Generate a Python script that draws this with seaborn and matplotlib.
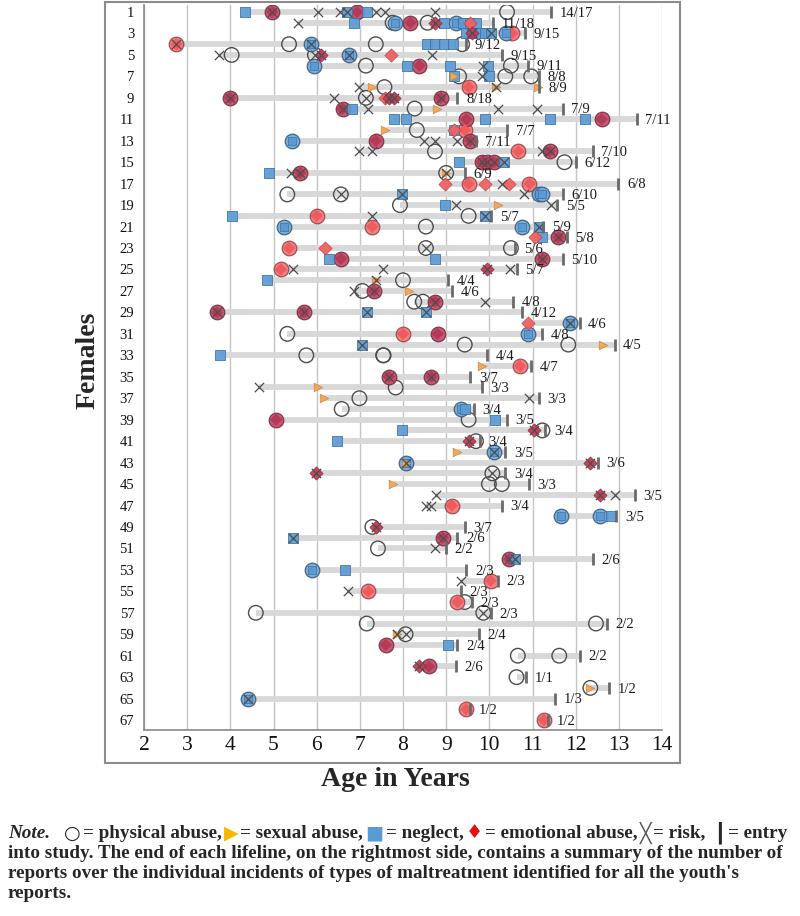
import numpy as np
import matplotlib
matplotlib.use("Agg")
import matplotlib.pyplot as plt
import seaborn as sns
from matplotlib.patches import Rectangle

# ---- data: (row, age in years) for each kind of marker ----
physical = [(1, 10.41), (2, 7.76), (2, 8.57), (4, 5.36), (4, 7.37), (4, 9.37), (5, 4.03), (5, 5.96),
            (6, 7.14), (6, 10.5), (7, 9.3), (7, 10.37), (7, 10.97), (8, 7.57), (9, 7.14), (10, 8.27),
            (12, 8.32), (14, 8.74), (15, 11.74), (16, 9.0), (18, 5.32), (18, 6.56), (19, 7.93),
            (20, 9.52), (21, 8.53), (23, 8.53), (23, 10.5), (26, 8.0), (27, 7.06), (28, 8.26),
            (28, 8.46), (31, 5.32), (32, 9.43), (32, 11.83), (33, 5.76), (33, 7.54), (33, 7.55),
            (36, 7.83), (37, 6.99), (38, 6.58), (39, 9.52), (40, 11.23), (41, 9.69), (44, 10.07),
            (45, 9.99), (45, 10.29), (49, 7.29), (51, 7.42), (56, 9.43), (57, 4.59), (57, 9.86),
            (58, 7.16), (58, 12.47), (59, 8.06), (61, 10.66), (61, 11.62), (63, 10.63), (64, 12.34)]

phys_emot = [(3, 10.53), (4, 2.75), (8, 9.52), (12, 9.43), (14, 10.67), (17, 9.52), (17, 10.93),
             (20, 6.0), (21, 7.29), (23, 5.36), (25, 5.17), (31, 8.0), (34, 10.71), (47, 9.13),
             (54, 10.03), (55, 7.2), (56, 9.26), (66, 9.46), (67, 11.26)]

phys_emot_dark = [(1, 4.97), (1, 6.94), (2, 8.17), (6, 8.38), (9, 3.99), (9, 8.87), (10, 6.6),
                  (11, 9.47), (11, 12.6), (13, 7.37), (13, 9.56), (14, 11.4), (15, 9.82), (15, 9.94),
                  (15, 10.11), (16, 5.62), (22, 11.6), (24, 6.56), (24, 11.23), (27, 7.33), (28, 8.74),
                  (29, 3.69), (29, 5.7), (31, 8.8), (35, 7.67), (35, 8.66), (39, 5.06), (50, 8.92),
                  (52, 10.46), (60, 7.6), (62, 8.6)]

phys_neglect = [(2, 7.82), (2, 9.22), (3, 10.38), (4, 5.87), (5, 6.75), (6, 5.94), (13, 5.43),
                (18, 11.14), (18, 11.23), (21, 5.25), (21, 10.76), (30, 11.87), (31, 10.89),
                (38, 9.34), (42, 10.11), (43, 8.06), (48, 11.66), (48, 12.57), (53, 5.89), (65, 4.42)]

neglect = [(1, 4.35), (1, 6.71), (1, 7.16), (2, 6.86), (2, 8.94), (2, 9.4), (2, 9.55), (2, 9.69),
           (3, 9.45), (3, 9.6), (3, 9.75), (3, 9.9), (3, 10.05), (4, 8.55), (4, 8.75), (4, 8.95),
           (4, 9.15), (6, 8.1), (6, 9.09), (6, 9.97), (7, 9.17), (7, 9.99), (10, 6.83), (11, 7.8),
           (11, 8.08), (11, 9.9), (11, 11.4), (11, 12.21), (12, 9.17), (15, 9.29), (15, 10.33),
           (16, 4.89), (18, 7.97), (19, 8.98), (20, 4.03), (20, 9.9), (21, 11.14), (22, 11.23),
           (24, 6.28), (24, 8.74), (26, 4.86), (29, 7.16), (29, 8.53), (32, 7.06), (33, 3.75),
           (38, 9.43), (39, 10.14), (40, 7.97), (41, 6.46), (48, 12.81), (50, 5.45), (52, 10.59),
           (53, 6.66), (60, 9.04)]

emotional = [(2, 9.55), (5, 7.72), (9, 7.59), (12, 9.17), (17, 8.98), (17, 9.9), (17, 10.46),
             (22, 11.05), (23, 6.2), (30, 10.89)]

emot_dark = [(2, 8.75), (3, 9.6), (5, 6.11), (9, 7.68), (9, 7.78), (25, 9.94), (40, 11.03),
             (41, 9.52), (43, 12.34), (44, 5.98), (46, 12.57), (49, 7.37), (62, 8.38)]

sexual = [(7, 9.17), (8, 7.29), (8, 10.16), (8, 11.12), (10, 8.79), (12, 7.59), (16, 9.0),
          (19, 10.2), (26, 7.37), (27, 8.14), (32, 12.64), (34, 9.82), (36, 6.04), (37, 6.17),
          (42, 9.26), (43, 8.06), (45, 7.76), (59, 7.85), (64, 12.34)]

risk = [(1, 4.97), (1, 6.03), (1, 6.54), (1, 6.71), (1, 7.37), (1, 7.59), (1, 8.74), (2, 5.57),
        (2, 8.75), (3, 9.6), (3, 10.05), (4, 2.75), (4, 5.87), (5, 3.73), (5, 5.96), (5, 6.11),
        (5, 6.75), (5, 8.68), (6, 9.86), (7, 9.82), (8, 6.99), (8, 10.16), (9, 3.99), (9, 6.4),
        (9, 7.14), (9, 7.68), (9, 7.78), (9, 8.87), (10, 6.6), (10, 7.2), (10, 10.2), (10, 11.1),
        (13, 8.49), (13, 8.74), (13, 9.26), (13, 9.56), (14, 6.99), (14, 7.29), (14, 11.23),
        (14, 11.4), (15, 9.82), (15, 9.94), (15, 10.11), (15, 10.33), (16, 5.4), (16, 5.62),
        (16, 9.0), (17, 10.29), (18, 6.56), (18, 7.97), (18, 10.8), (19, 9.23), (19, 11.44),
        (20, 7.29), (20, 9.9), (21, 11.14), (22, 11.6), (23, 8.53), (24, 11.23), (25, 5.45),
        (25, 7.54), (25, 9.94), (25, 10.48), (26, 7.37), (27, 6.86), (27, 7.33), (28, 8.74),
        (28, 9.9), (29, 3.69), (29, 5.7), (29, 7.16), (29, 8.53), (30, 11.87), (32, 7.06),
        (35, 7.67), (35, 8.66), (36, 4.66), (37, 10.93), (40, 11.03), (41, 9.52), (42, 10.11),
        (43, 8.06), (43, 12.34), (44, 5.98), (44, 10.07), (46, 8.77), (46, 12.57), (46, 12.9),
        (47, 8.53), (47, 8.66), (49, 7.37), (50, 5.45), (50, 8.92), (51, 8.74), (52, 10.46),
        (52, 10.59), (54, 9.34), (55, 6.73), (57, 9.86), (59, 7.85), (59, 8.06), (62, 8.38),
        (65, 4.42)]

# age at entry into study, one per female (rows 1..67)
entry_age = [11.43, 10.08, 10.82, 9.45, 10.3, 10.89, 11.14, 11.16, 9.26, 11.7,
             13.41, 10.41, 9.7, 12.39, 12.0, 9.43, 12.99, 11.7, 11.57, 10.05,
             11.25, 11.79, 10.6, 11.7, 10.63, 9.04, 9.13, 10.54, 10.76, 12.09,
             11.23, 12.9, 9.94, 10.97, 9.56, 9.83, 11.14, 9.64, 10.41, 11.3,
             9.78, 10.37, 12.51, 10.37, 10.91, 13.37, 10.29, 12.94, 9.43, 9.26,
             9.0, 12.39, 9.47, 10.2, 9.34, 9.6, 10.03, 12.73, 9.75, 9.26,
             12.09, 9.23, 10.86, 12.77, 11.53, 9.55, 11.35]

summary = ["14/17", "11/18", "9/15", "9/12", "9/15", "9/11", "8/8", "8/9", "8/18", "7/9",
           "7/11", "7/7", "7/11", "7/10", "6/12", "6/9", "6/8", "6/10", "5/5", "5/7",
           "5/9", "5/8", "5/6", "5/10", "5/7", "4/4", "4/6", "4/8", "4/12", "4/6",
           "4/8", "4/5", "4/4", "4/7", "3/7", "3/3", "3/3", "3/4", "3/5", "3/4",
           "3/4", "3/5", "3/6", "3/4", "3/3", "3/5", "3/4", "3/5", "3/7", "2/6",
           "2/2", "2/6", "2/3", "2/3", "2/3", "2/3", "2/3", "2/2", "2/4", "2/4",
           "2/2", "2/6", "1/1", "1/2", "1/3", "1/2", "1/2"]

rows = np.arange(1, len(entry_age) + 1)


def split(pairs):
    return [a for r, a in pairs], [r for r, a in pairs]


sns.set_theme(style="white")
plt.rcParams['font.family'] = ['Liberation Serif', 'DejaVu Serif']

fig = plt.figure(figsize=(8, 9.16), dpi=100)
ax = fig.add_axes([0.18, 0.203, 0.6475, 0.7915])

# lifelines: from first report to entry into study
all_events = physical + phys_emot + phys_emot_dark + phys_neglect + neglect + emotional + emot_dark + sexual + risk
starts = []
for r in rows:
    ages = [a for rr, a in all_events if rr == r]
    starts.append(min(ages))
ax.hlines(rows, starts, entry_age, color='#d8d8d8', lw=4.2, zorder=1)

# circles (physical abuse), filled when they coincide with other types
x, y = split(physical)
ax.scatter(x, y, s=110, facecolors='none', edgecolors='#4d4d4d', linewidths=1.0, zorder=3)
x, y = split(phys_emot)
sns.scatterplot(x=x, y=y, ax=ax, marker='o', s=110, color='#f27b7b', edgecolor='#9a4a50',
                linewidth=0.9, alpha=0.95, zorder=3, legend=False)
sns.scatterplot(x=x, y=y, ax=ax, marker='D', s=40, color='#ee5c60', edgecolor='none',
                zorder=4, legend=False)
x, y = split(phys_emot_dark)
sns.scatterplot(x=x, y=y, ax=ax, marker='o', s=110, color='#c4506c', edgecolor='#7a3344',
                linewidth=0.9, alpha=0.95, zorder=3, legend=False)
sns.scatterplot(x=x, y=y, ax=ax, marker='D', s=40, color='#b53a58', edgecolor='none',
                zorder=4, legend=False)
x, y = split(phys_neglect)
sns.scatterplot(x=x, y=y, ax=ax, marker='o', s=110, color='#74a9d8', edgecolor='#3f5f80',
                linewidth=0.9, alpha=0.95, zorder=3, legend=False)
sns.scatterplot(x=x, y=y, ax=ax, marker='s', s=40, color='#5b9bd5', edgecolor='#41719c',
                linewidth=0.5, zorder=4, legend=False)

# neglect, emotional, sexual
x, y = split(neglect)
sns.scatterplot(x=x, y=y, ax=ax, marker='s', s=50, color='#5b9bd5', edgecolor='#3d6f9e',
                linewidth=0.6, alpha=0.92, zorder=5, legend=False)
x, y = split(emotional)
sns.scatterplot(x=x, y=y, ax=ax, marker='D', s=45, color='#f06262', edgecolor='#c24048',
                linewidth=0.5, alpha=0.95, zorder=5, legend=False)
x, y = split(emot_dark)
sns.scatterplot(x=x, y=y, ax=ax, marker='D', s=45, color='#c43a55', edgecolor='#8a2a3c',
                linewidth=0.5, alpha=0.95, zorder=5, legend=False)
x, y = split(sexual)
sns.scatterplot(x=x, y=y, ax=ax, marker='>', s=38, color='#f2a65a', edgecolor='#d08840',
                linewidth=0.5, zorder=6, legend=False)

# risk
x, y = split(risk)
ax.scatter(x, y, s=45, marker='x', color='#4d4d4d', linewidths=0.9, zorder=7)

# entry into study + summary
ax.plot(entry_age, rows, linestyle='none', marker='|', markersize=8, mew=2.0,
        color='#6a6a6a', zorder=8)
for r, e, lab in zip(rows, entry_age, summary):
    ax.text(e + 0.2, r + 0.12, lab, fontsize=10.5, va='center', ha='left', color='#1a1a1a', zorder=9)

# axes styling
ax.set_xlim(2, 14)
ax.set_ylim(67.93, 0.35)
ax.set_xticks(range(2, 15))
ax.set_xticklabels([str(v) for v in range(2, 15)], fontsize=15.5)
ax.set_yticks(range(1, 68, 2))
ax.set_yticklabels([str(v) for v in range(1, 68, 2)], fontsize=10.5)
ax.set_yticks(range(1, 68), minor=True)
ax.tick_params(axis='x', length=0, pad=4, colors='#111111')
ax.tick_params(axis='y', which='both', length=4, width=0.8, color='#8a8a8a', pad=3)
ax.tick_params(axis='y', labelcolor='#111111')
ax.grid(axis='x', color='#c4c4c4', lw=1.0)
ax.set_axisbelow(True)
for side in ['top', 'right']:
    ax.spines[side].set_visible(False)
for side in ['left', 'bottom']:
    ax.spines[side].set_color('#8a8a8a')
    ax.spines[side].set_linewidth(1.2)

fig.add_artist(Rectangle((0.131, 0.167), 0.719, 0.831, transform=fig.transFigure,
                         fill=False, edgecolor='#8c8c8c', lw=1.5))

fig.text(0.11, 0.607, 'Females', rotation=90, fontsize=20, fontweight='bold', ha='center', va='center')
fig.text(0.494, 0.149, 'Age in Years', fontsize=20, fontweight='bold', ha='center', va='center')

# note below the chart
renderer = fig.canvas.get_renderer()
left_px, right_px = 8, 787
line2 = "into study. The end of each lifeline, on the rightmost side, contains a summary of the number of"
probe = fig.text(0, 0, line2, fontsize=10, fontweight='bold')
w = probe.get_window_extent(renderer).width
probe.remove()
note_fs = 10 * (right_px - left_px) / w

H = 916.0
W = 800.0
ys = [833, 853, 873, 893]

pieces = [("Note.", dict(style='italic')), ("  ", {}),
          ("\u25CB", dict(family='DejaVu Sans', fontweight='normal')), ("= physical abuse,", {}),
          ("\u25B6", dict(family='DejaVu Sans', color='#f5b800')), ("= sexual abuse,", {}),
          ("\u25A0", dict(family='DejaVu Sans', color='#5b9bd5')), ("= neglect,", {}),
          ("\u2666", dict(family='DejaVu Sans', color='#e01010')), ("= emotional abuse,", {}),
          ("\u2573", dict(family='DejaVu Sans', fontweight='normal', color='#555555')), ("= risk,", {}),
          (" \u2503", dict(family='DejaVu Sans')), ("= entry", {})]
objs = []
total = 0
for txt, kw in pieces:
    t = fig.text(0, 1 - ys[0] / H, txt, fontsize=note_fs, fontweight=kw.pop('fontweight', 'bold'),
                 va='center', ha='left', **kw)
    wd = t.get_window_extent(renderer).width
    objs.append((t, wd))
    total += wd
gap = (right_px - left_px - total) / (len(objs) - 1)
xpos = left_px
for t, wd in objs:
    t.set_x(xpos / W)
    xpos += wd + gap

lines = [line2,
         "reports over the individual incidents of types of maltreatment identified for all the youth's",
         "reports."]
for yy, txt in zip(ys[1:], lines):
    fig.text(left_px / W, 1 - yy / H, txt, fontsize=note_fs, fontweight='bold', va='center', ha='left')

fig.savefig('out.png', dpi=100, facecolor='white')
